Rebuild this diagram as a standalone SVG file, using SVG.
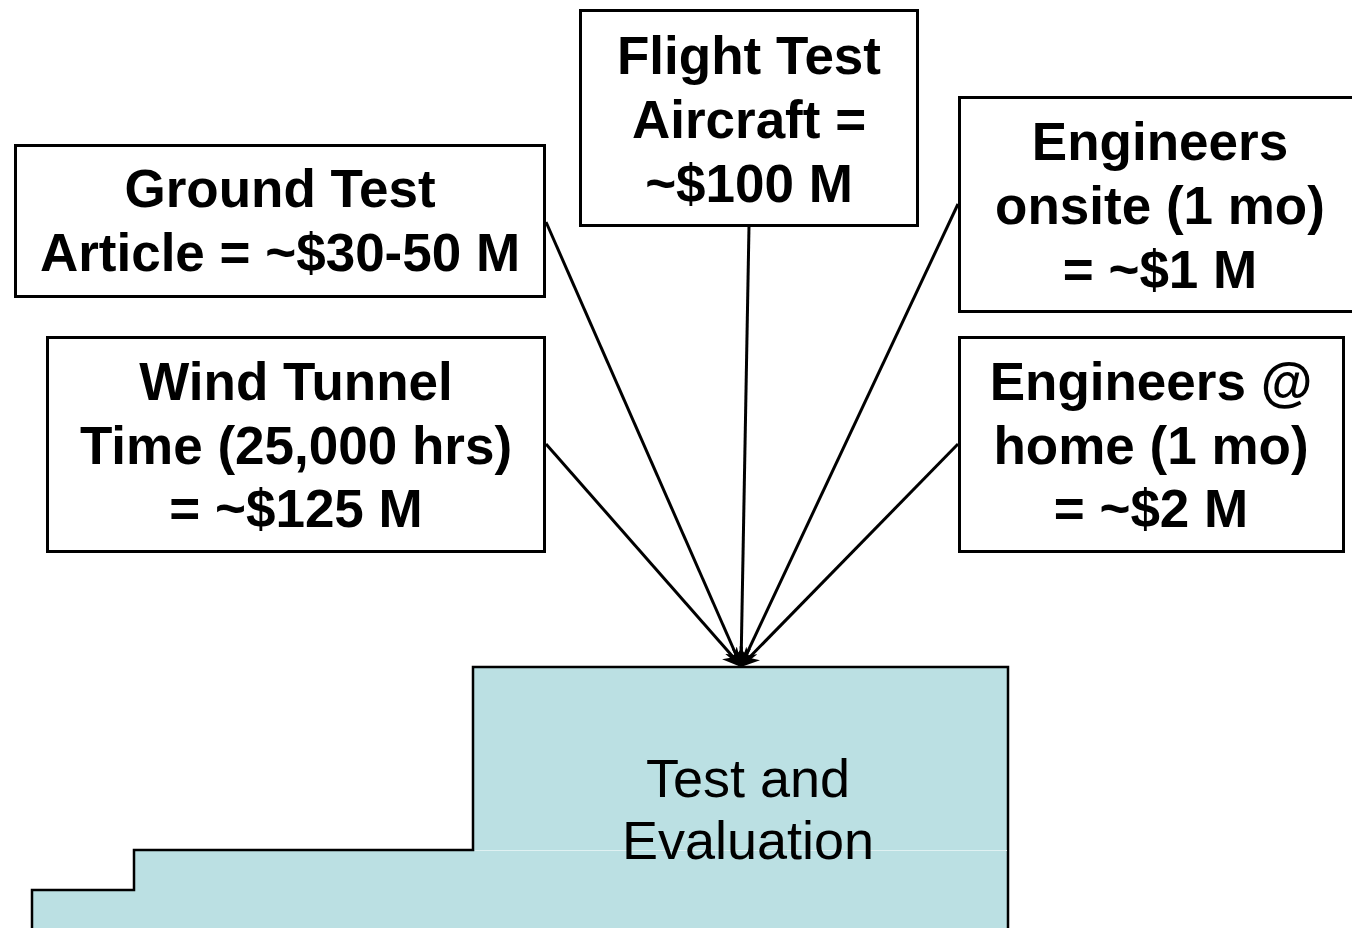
<svg xmlns="http://www.w3.org/2000/svg" width="1352" height="928" viewBox="0 0 1352 928">
<style>
.box{fill:#fff;stroke:#000;stroke-width:3}
.lbl{font-family:"Liberation Sans",Arial,sans-serif;font-weight:bold;font-size:53px;text-anchor:middle;fill:#000}
.te{font-family:"Liberation Sans",Arial,sans-serif;font-size:54px;text-anchor:middle;fill:#000}
.con{stroke:#000;stroke-width:3;fill:none;marker-end:url(#arr)}
</style>
<defs>
<marker id="arr" viewBox="0 0 10 10" refX="9" refY="5" markerWidth="6.5" markerHeight="6.5" orient="auto" markerUnits="strokeWidth">
<path d="M0,0 L10,5 L0,10 L3,5 z" fill="#000"/>
</marker>
</defs>
<rect width="1352" height="928" fill="#fff"/>
<g id="test-evaluation">
<path d="M32,928 V890 H134 V850 H473 V667 H1008 V928 Z" fill="#bbe0e3" stroke="none"/>
<path d="M32,928 V890 H134 V850 H473 V667 H1008 V928" fill="none" stroke="#000" stroke-width="2.5"/>
<line x1="475" y1="850.5" x2="1007" y2="850.5" stroke="#dff1f2" stroke-width="1"/>
<text class="te" x="748" y="797">Test and</text>
<text class="te" x="748" y="859">Evaluation</text>
</g>
<g id="connectors">
<line class="con" x1="546" y1="222" x2="741" y2="666"/>
<line class="con" x1="546" y1="444" x2="741" y2="666"/>
<line class="con" x1="749" y1="226" x2="741" y2="666"/>
<line class="con" x1="958" y1="204" x2="741" y2="666"/>
<line class="con" x1="958" y1="444" x2="741" y2="666"/>
</g>
<g id="ground-test">
<rect class="box" x="15.5" y="145.5" width="529" height="151"/>
<text class="lbl" x="280" y="207">Ground Test</text>
<text class="lbl" x="280" y="271">Article = ~$30-50 M</text>
</g>
<g id="flight-test">
<rect class="box" x="580.5" y="10.5" width="337" height="215"/>
<text class="lbl" x="749" y="74">Flight Test</text>
<text class="lbl" x="749" y="138">Aircraft =</text>
<text class="lbl" x="749" y="202">~$100 M</text>
</g>
<g id="engineers-onsite">
<rect class="box" x="959.5" y="97.5" width="400" height="214"/>
<text class="lbl" x="1160" y="160">Engineers</text>
<text class="lbl" x="1160" y="224">onsite (1 mo)</text>
<text class="lbl" x="1160" y="288">= ~$1 M</text>
</g>
<g id="wind-tunnel">
<rect class="box" x="47.5" y="337.5" width="497" height="214"/>
<text class="lbl" x="296" y="400">Wind Tunnel</text>
<text class="lbl" x="296" y="464">Time (25,000 hrs)</text>
<text class="lbl" x="296" y="527">= ~$125 M</text>
</g>
<g id="engineers-home">
<rect class="box" x="959.5" y="337.5" width="384" height="214"/>
<text class="lbl" x="1151" y="400">Engineers @</text>
<text class="lbl" x="1151" y="464">home (1 mo)</text>
<text class="lbl" x="1151" y="527">= ~$2 M</text>
</g>
</svg>
